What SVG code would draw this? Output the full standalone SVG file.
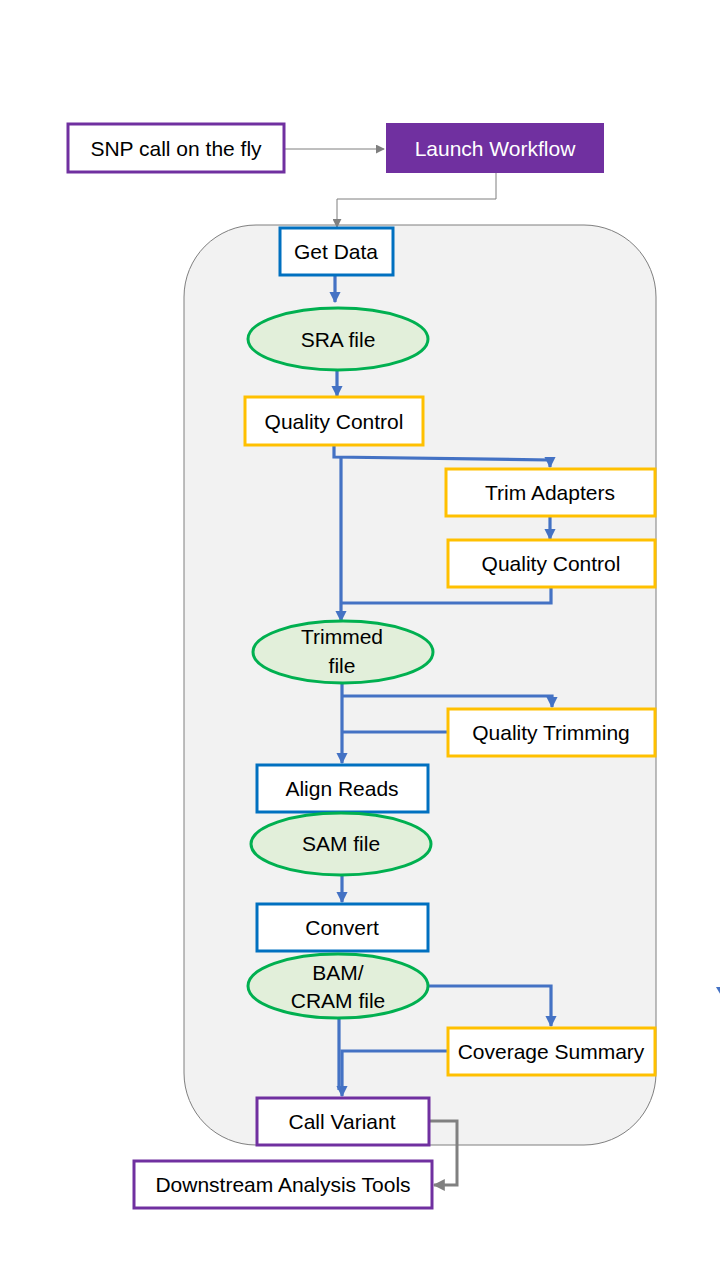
<svg xmlns="http://www.w3.org/2000/svg" width="720" height="1280" viewBox="0 0 720 1280">
<defs>
<marker id="ab" viewBox="0 0 10 10" refX="9" refY="5" markerWidth="3.6" markerHeight="3.6" orient="auto" markerUnits="strokeWidth"><path d="M0,0 L10,5 L0,10 z" fill="#4472c4"/></marker>
<marker id="ag" viewBox="0 0 10 10" refX="9" refY="5" markerWidth="9" markerHeight="9" orient="auto" markerUnits="userSpaceOnUse"><path d="M0,0 L10,5 L0,10 z" fill="#7f7f7f"/></marker>
<marker id="ag2" viewBox="0 0 10 10" refX="9" refY="5" markerWidth="4" markerHeight="4" orient="auto" markerUnits="strokeWidth"><path d="M0,0 L10,5 L0,10 z" fill="#808080"/></marker>
</defs>
<style>
text{font-family:"Liberation Sans",Arial,sans-serif;font-size:21px;fill:#000;text-anchor:middle;dominant-baseline:central}
.wt{fill:#fff}
.pb{fill:#fff;stroke:#7030a0;stroke-width:3}
.bb{fill:#fff;stroke:#0070c0;stroke-width:3}
.yb{fill:#fff;stroke:#ffc000;stroke-width:3}
.el{fill:#e2efda;stroke:#00b050;stroke-width:3}
.bl{fill:none;stroke:#4472c4;stroke-width:3.2}
.gl{fill:none;stroke:#7f7f7f;stroke-width:1}
.gl3{fill:none;stroke:#808080;stroke-width:3}
</style>
<rect x="0" y="0" width="720" height="1280" fill="#fff"/>
<rect id="container" x="184" y="225" width="472" height="920" rx="72" ry="72" fill="#f2f2f2" stroke="#7f7f7f" stroke-width="1"/>

<g id="connectors">
<path class="gl" d="M284,149 H384" marker-end="url(#ag)"/>
<path class="gl" d="M496,173 V199 H337 V227" marker-end="url(#ag)"/>
<path class="bl" d="M335,276 V302" marker-end="url(#ab)"/>
<path class="bl" d="M337,371 V396" marker-end="url(#ab)"/>
<path class="bl" d="M334,445 V457 L550,460 V467" marker-end="url(#ab)"/>
<path class="bl" d="M341,457 V621" marker-end="url(#ab)"/>
<path class="bl" d="M550,516 V539" marker-end="url(#ab)"/>
<path class="bl" d="M551,587 V603 H341"/>
<path class="bl" d="M342,683 V763" marker-end="url(#ab)"/>
<path class="bl" d="M342,696 H552 V707" marker-end="url(#ab)"/>
<path class="bl" d="M447,732 H342"/>
<path class="bl" d="M342,876 V902" marker-end="url(#ab)"/>
<path class="bl" d="M429,986 H551 V1026" marker-end="url(#ab)"/>
<path class="bl" d="M339,1018 V1090"/>
<path class="bl" d="M447,1051 H342 V1096" marker-end="url(#ab)"/>
<path class="gl3" d="M430,1121 H457 V1185 H434" marker-end="url(#ag2)"/>
<polygon points="716,987 728,987 722,997" fill="#4472c4"/>
</g>

<g id="snp"><rect class="pb" x="68" y="124" width="216" height="48"/><text x="176" y="148">SNP call on the fly</text></g>
<g id="launch"><rect x="386" y="123" width="218" height="50" fill="#7030a0"/><text class="wt" x="495" y="148">Launch Workflow</text></g>
<g id="getdata"><rect class="bb" x="280" y="228" width="113" height="47"/><text x="336" y="251">Get Data</text></g>
<g id="sra"><ellipse class="el" cx="338" cy="339" rx="90" ry="31"/><text x="338" y="339">SRA file</text></g>
<g id="qc1"><rect class="yb" x="245" y="397" width="178" height="48"/><text x="334" y="421">Quality Control</text></g>
<g id="trim"><rect class="yb" x="446" y="469" width="209" height="47"/><text x="550" y="492">Trim Adapters</text></g>
<g id="qc2"><rect class="yb" x="448" y="540" width="207" height="47"/><text x="551" y="563">Quality Control</text></g>
<g id="trimmed"><ellipse class="el" cx="343" cy="652" rx="90" ry="31"/><text x="342" y="636">Trimmed</text><text x="342" y="665">file</text></g>
<g id="qtrim"><rect class="yb" x="448" y="709" width="207" height="47"/><text x="551" y="732">Quality Trimming</text></g>
<g id="align"><rect class="bb" x="257" y="765" width="171" height="47"/><text x="342" y="788">Align Reads</text></g>
<g id="sam"><ellipse class="el" cx="341" cy="844" rx="90" ry="31"/><text x="341" y="843">SAM file</text></g>
<g id="convert"><rect class="bb" x="257" y="904" width="171" height="47"/><text x="342" y="927">Convert</text></g>
<g id="bam"><ellipse class="el" cx="338" cy="986" rx="90" ry="32"/><text x="338" y="972">BAM/</text><text x="338" y="1000">CRAM file</text></g>
<g id="coverage"><rect class="yb" x="448" y="1028" width="207" height="47"/><text x="551" y="1051">Coverage Summary</text></g>
<g id="callvar"><rect class="pb" x="257" y="1098" width="172" height="47"/><text x="342" y="1121">Call Variant</text></g>
<g id="downstream"><rect class="pb" x="134" y="1161" width="298" height="47"/><text x="283" y="1184">Downstream Analysis Tools</text></g>
</svg>
